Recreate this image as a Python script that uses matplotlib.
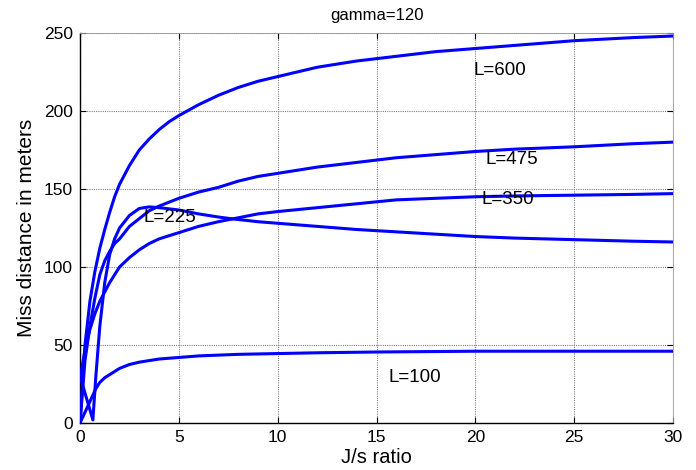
import matplotlib
import numpy as np

matplotlib.use("Agg")
import matplotlib.pyplot as plt

plt.rcParams["font.family"] = ["Liberation Sans", "DejaVu Sans"]

# miss distance vs J/s ratio, one curve per L
x_600 = [0, 0.25, 0.5, 0.75, 1, 1.25, 1.5, 1.75, 2, 2.5, 3, 3.5, 4, 4.5, 5, 6, 7, 8, 9, 10,
         12, 14, 16, 18, 20, 22, 25, 28, 30]
y_600 = [0, 50, 78, 97, 112, 124, 135, 145, 153, 165, 175, 182, 188, 193, 197, 204, 210, 215, 219, 222,
         228, 232, 235, 238, 240, 242, 245, 247, 248]

x_475 = [0, 0.25, 0.5, 0.75, 1, 1.25, 1.5, 1.75, 2, 2.5, 3, 3.5, 4, 4.5, 5, 6, 7, 8, 9, 10,
         12, 14, 16, 18, 20, 22, 25, 28, 30]
y_475 = [0, 40, 62, 80, 95, 104, 110, 115, 118, 126, 131, 136, 139, 141.5, 144, 148, 151, 155, 158, 160,
         164, 167, 170, 172, 174, 175.5, 177, 179, 180]

x_350 = [0, 0.25, 0.5, 0.75, 1, 1.5, 2, 2.5, 3, 3.5, 4, 4.5, 5, 6, 7, 8, 9, 10,
         12, 14, 16, 18, 20, 22, 25, 28, 30]
y_350 = [28, 47, 60, 70, 78, 90, 100, 106, 111, 115, 118, 120, 122, 126, 129, 131.5, 134, 135.5,
         138, 140.5, 143, 144, 145, 145.5, 146, 146.5, 147]

x_225 = [0, 0.65, 0.8, 1, 1.25, 1.5, 1.75, 2, 2.5, 3, 3.5, 4, 5, 6, 7, 7.6, 9, 10,
         12, 14, 16, 18, 20, 22, 25, 28, 30]
y_225 = [30, 2, 30, 62, 90, 108, 118, 125, 133, 137.5, 138.5, 138, 136.5, 134, 132, 131, 129, 128,
         126, 124, 122.5, 121, 119.5, 118.5, 117.5, 116.5, 116]

x_100 = [0, 0.4, 0.8, 1, 1.25, 1.5, 2, 2.5, 3, 4, 5, 6, 7, 8, 10, 12, 15, 20, 25, 30]
y_100 = [0, 11, 22, 26, 29, 31, 35, 37.5, 39, 41, 42, 43, 43.5, 44, 44.5, 45, 45.5, 46, 46, 46]

curve_labels = ["L=600", "L=475", "L=350", "L=225", "L=100"]
label_x = [19.9, 20.5, 20.3, 3.2, 15.6]
label_y = [226, 169, 143, 132, 29]

figure = plt.figure(figsize=(6.96, 4.70), dpi=100)
axis = figure.add_axes([0.115, 0.1, 0.852, 0.83])

for xs, ys in [(x_600, y_600), (x_475, y_475), (x_350, y_350), (x_225, y_225), (x_100, y_100)]:
    axis.plot(xs, ys, color="#0000ff", linewidth=2.2, solid_joinstyle="round", zorder=3)

for text, tx, ty in zip(curve_labels, label_x, label_y):
    axis.text(tx, ty, text, fontsize=13.5, ha="left", va="center", zorder=4)

axis.set_xlim(0, 30)
axis.set_ylim(0, 250)
axis.set_xticks(np.arange(0, 31, 5))
axis.set_yticks(np.arange(0, 251, 50))
axis.tick_params(direction="in", length=4, width=0.8, labelsize=12.5,
                 top=True, right=True, pad=5)
axis.grid(True, color="#808080", linestyle=(0, (1, 1)), linewidth=0.8)

for side in ["top", "right"]:
    axis.spines[side].set_color("#999999")
    axis.spines[side].set_linewidth(0.6)
for side in ["left", "bottom"]:
    axis.spines[side].set_linewidth(1.0)

axis.set_xlabel("J/s ratio", fontsize=14.5, labelpad=2)
axis.set_ylabel("Miss distance in meters", fontsize=15, labelpad=6)
axis.set_title("gamma=120", fontsize=12, pad=9)

figure.savefig("out.png", dpi=100)
plt.close(figure)
